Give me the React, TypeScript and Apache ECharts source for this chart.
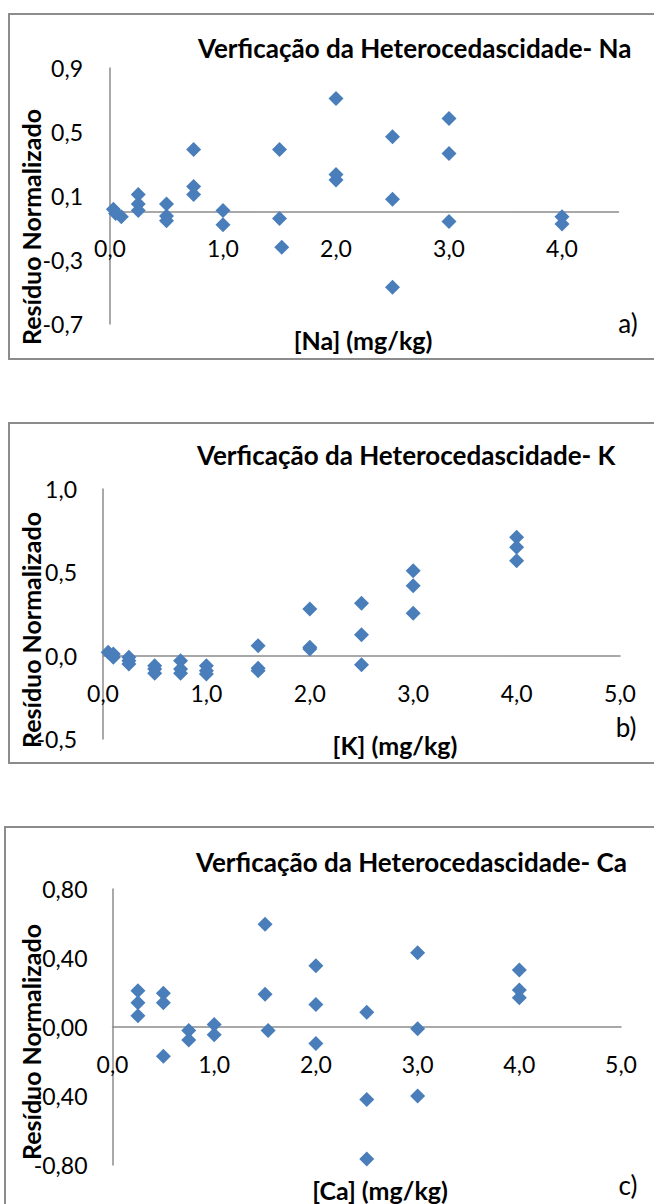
import React, { useEffect, useRef } from "react";
import * as echarts from "echarts";

// ---- Panel a: Na ----
const naX = [0.03, 0.05, 0.1, 0.25, 0.25, 0.25, 0.5, 0.5, 0.5, 0.74, 0.74, 0.74, 1.0, 1.0, 1.5, 1.5, 1.52, 2.0, 2.0, 2.0, 2.5, 2.5, 2.5, 3.0, 3.0, 3.0, 4.0, 4.0];
const naY = [0.017, -0.01, -0.03, 0.11, 0.05, 0.01, 0.05, -0.025, -0.055, 0.39, 0.16, 0.11, 0.01, -0.08, 0.39, -0.04, -0.22, 0.71, 0.235, 0.2, 0.47, 0.08, -0.47, 0.585, 0.365, -0.06, -0.03, -0.075];
const naYTicks = [-0.7, -0.3, 0.1, 0.5, 0.9];
const naXTicks = [0, 1, 2, 3, 4];

// ---- Panel b: K ----
const kX = [0.05, 0.1, 0.1, 0.25, 0.25, 0.25, 0.5, 0.5, 0.5, 0.75, 0.75, 0.75, 1.0, 1.0, 1.0, 1.5, 1.5, 1.5, 2.0, 2.0, 2.0, 2.5, 2.5, 2.5, 3.0, 3.0, 3.0, 4.0, 4.0, 4.0];
const kY = [0.02, 0.01, -0.01, -0.01, -0.03, -0.05, -0.06, -0.08, -0.105, -0.03, -0.08, -0.105, -0.06, -0.09, -0.11, 0.06, -0.075, -0.09, 0.28, 0.05, 0.04, 0.315, 0.125, -0.055, 0.51, 0.42, 0.255, 0.71, 0.65, 0.57];
const kYTicks = [-0.5, 0, 0.5, 1.0];
const kXTicks = [0, 1, 2, 3, 4, 5];

// ---- Panel c: Ca ----
const caX = [0.25, 0.25, 0.25, 0.5, 0.5, 0.5, 0.75, 0.75, 1.0, 1.0, 1.5, 1.5, 1.53, 2.0, 2.0, 2.0, 2.5, 2.5, 2.5, 3.0, 3.0, 3.0, 4.0, 4.0, 4.0];
const caY = [0.21, 0.14, 0.065, 0.195, 0.14, -0.17, -0.02, -0.075, 0.015, -0.045, 0.595, 0.19, -0.02, 0.355, 0.13, -0.095, 0.085, -0.42, -0.765, 0.43, -0.01, -0.4, 0.33, 0.215, 0.17];
const caYTicks = [-0.8, -0.4, 0, 0.4, 0.8];
const caXTicks = [0, 1, 2, 3, 4, 5];

const titles = [
  "Verficação da Heterocedascidade- Na",
  "Verficação da Heterocedascidade- K",
  "Verficação da Heterocedascidade- Ca",
];
const xNames = ["[Na] (mg/kg)", "[K] (mg/kg)", "[Ca] (mg/kg)"];
const yName = "Resíduo Normalizado";
const panelTags = ["a)", "b)", "c)"];

const FONT = "Lato, 'Noto Sans', sans-serif";
const BLUE = "#4A7EBB";
const AXIS = "#8C8C8C";

function fmt(v: number, ticks: number[], dec: number): string {
  for (const t of ticks) {
    if (Math.abs(v - t) < 1e-6) {
      const s = Math.abs(t) < 1e-9 ? (0).toFixed(dec) : t.toFixed(dec);
      return s.replace(".", ",");
    }
  }
  return "";
}

function pairs(xs: number[], ys: number[]) {
  return xs.map((x, i) => [x, ys[i]]);
}

export default function App() {
  const ref = useRef<HTMLDivElement>(null);
  useEffect(() => {
    if (!ref.current) return;
    const chart = echarts.init(ref.current, undefined, { renderer: "svg" });

    const panels = [
      { grid: { left: 110, top: 68, width: 508.5, height: 256 }, xmin: 0, xmax: 4.5, xint: 1, xt: naXTicks, xm: -88, ymin: -0.7, ymax: 0.9, yint: 0.1, yt: naYTicks, ydec: 1, ym: 27, data: pairs(naX, naY) },
      { grid: { left: 103, top: 489, width: 517, height: 250 }, xmin: 0, xmax: 5, xint: 1, xt: kXTicks, xm: -58, ymin: -0.5, ymax: 1.0, yint: 0.5, yt: kYTicks, ydec: 1, ym: 26, data: pairs(kX, kY) },
      { grid: { left: 112.5, top: 889, width: 508.5, height: 276 }, xmin: 0, xmax: 5, xint: 1, xt: caXTicks, xm: -113, ymin: -0.8, ymax: 0.8, yint: 0.4, yt: caYTicks, ydec: 2, ym: 25, data: pairs(caX, caY) },
    ];

    const labelStyle = { color: "#000", fontFamily: FONT, fontSize: 23 };

    const graphic: any[] = [];
    const borders = [
      { x: 9, y: 14, w: 660, h: 345 },
      { x: 9, y: 423, w: 660, h: 340 },
      { x: 5, y: 827, w: 660, h: 400 },
    ];
    borders.forEach((b) =>
      graphic.push({ type: "rect", silent: true, shape: { x: b.x, y: b.y, width: b.w, height: b.h }, style: { fill: "none", stroke: AXIS, lineWidth: 2 } })
    );
    const titlePos = [ [198, 48], [197, 455], [196, 862] ];
    const xNamePos = [ [363, 340], [395, 745], [380, 1190] ];
    const yNamePos = [ [31, 227], [31, 630], [31, 1042] ];
    const tagPos = [ [628, 323], [626, 727], [628, 1185] ];
    for (let i = 0; i < 3; i++) {
      graphic.push({ type: "text", silent: true, x: titlePos[i][0], y: titlePos[i][1], style: { text: titles[i], font: `bold 26px ${FONT}`, fill: "#000", align: "left", verticalAlign: "middle" } });
      graphic.push({ type: "text", silent: true, x: xNamePos[i][0], y: xNamePos[i][1], style: { text: xNames[i], font: `bold 25px ${FONT}`, fill: "#000", align: "center", verticalAlign: "middle" } });
      graphic.push({ type: "text", silent: true, x: yNamePos[i][0], y: yNamePos[i][1], rotation: Math.PI / 2, style: { text: yName, font: `bold 25px ${FONT}`, fill: "#000", align: "center", verticalAlign: "middle" } });
      graphic.push({ type: "text", silent: true, x: tagPos[i][0], y: tagPos[i][1], style: { text: panelTags[i], font: `26px ${FONT}`, fill: "#000", align: "center", verticalAlign: "middle" } });
    }

    chart.setOption({
      animation: false,
      backgroundColor: "#fff",
      grid: panels.map((p) => ({ ...p.grid, containLabel: false })),
      xAxis: panels.map((p, i) => ({
        type: "value",
        gridIndex: i,
        min: p.xmin,
        max: p.xmax,
        interval: p.xint,
        axisLine: { show: true, onZero: true, lineStyle: { color: AXIS, width: 1.5 } },
        axisTick: { show: false },
        splitLine: { show: false },
        axisLabel: { ...labelStyle, margin: p.xm, showMaxLabel: true, formatter: (v: number) => fmt(v, p.xt, 1) },
      })),
      yAxis: panels.map((p, i) => ({
        type: "value",
        gridIndex: i,
        min: p.ymin,
        max: p.ymax,
        interval: p.yint,
        axisLine: { show: true, onZero: true, lineStyle: { color: AXIS, width: 1.5 } },
        axisTick: { show: false },
        splitLine: { show: false },
        axisLabel: { ...labelStyle, margin: p.ym, formatter: (v: number) => fmt(v, p.yt, p.ydec) },
      })),
      series: panels.map((p, i) => ({
        type: "scatter",
        xAxisIndex: i,
        yAxisIndex: i,
        symbol: "diamond",
        symbolSize: 15,
        itemStyle: { color: BLUE, opacity: 1 },
        data: p.data,
      })),
      graphic,
    });
    return () => chart.dispose();
  }, []);

  return <div ref={ref} style={{ position: "absolute", left: 0, top: 0, width: 654, height: 1204 }} />;
}
